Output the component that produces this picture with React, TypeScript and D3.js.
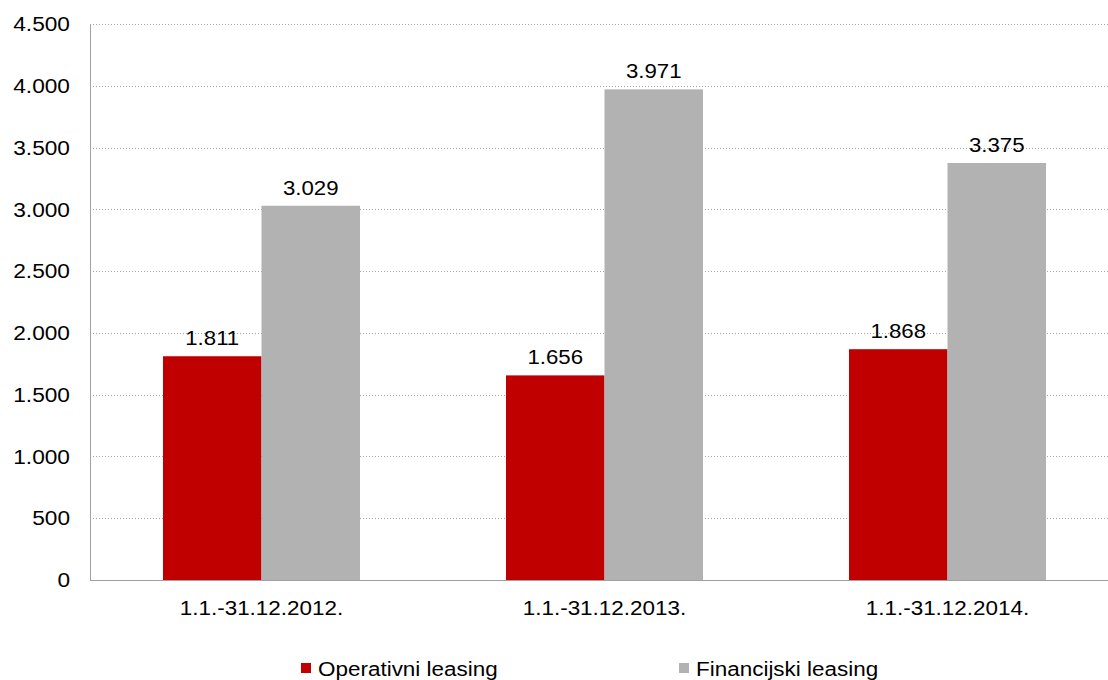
import React from "react";
import * as d3 from "d3";

const categories = ["1.1.-31.12.2012.", "1.1.-31.12.2013.", "1.1.-31.12.2014."];
const seriesNames = ["Operativni leasing", "Financijski leasing"];
const operativni = [1811, 1656, 1868];
const financijski = [3029, 3971, 3375];
const yTicks = [0, 500, 1000, 1500, 2000, 2500, 3000, 3500, 4000, 4500];
const colors = ["#C00000", "#B2B2B2"];

const W = 1108;
const H = 680;
const left = 90;
const right = 1119;
const top = 24;
const bottom = 580;
const groupW = 197;
const FONT = "'Liberation Sans', Arial, sans-serif";

const fmt = (v: number) => {
  const s = String(v);
  return s.replace(/\B(?=(\d{3})+(?!\d))/g, ".");
};

export default function App() {
  const x0 = d3.scaleBand<string>().domain(categories).range([left, right]);
  const x1 = d3.scaleBand<string>().domain(seriesNames).range([0, groupW]);
  const y = d3.scaleLinear().domain([0, 4500]).range([bottom, top]);
  const seriesValues = [operativni, financijski];

  return (
    <svg
      width={W}
      height={H}
      style={{ position: "absolute", left: 0, top: 0, background: "#fff" }}
      fontFamily={FONT}
    >
      {yTicks.map((t) => (
        <g key={t}>
          {t > 0 && (
            <line
              x1={left}
              x2={W}
              y1={Math.round(y(t)) + 0.5}
              y2={Math.round(y(t)) + 0.5}
              stroke="#a6a6a6"
              strokeDasharray="1,2"
            />
          )}
          <text
            x={70}
            y={y(t)}
            textAnchor="end"
            dominantBaseline="central"
            fontSize={21}
            fill="#000"
            transform={`translate(70,0) scale(1.08,1) translate(-70,0)`}
          >
            {fmt(t)}
          </text>
        </g>
      ))}
      {categories.map((c, ci) => {
        const gx = (x0(c) as number) + (x0.bandwidth() - groupW) / 2;
        return (
          <g key={c}>
            {seriesNames.map((s, si) => {
              const v = seriesValues[si][ci];
              const bx = gx + (x1(s) as number);
              return (
                <g key={s}>
                  <rect
                    x={bx}
                    y={y(v)}
                    width={x1.bandwidth()}
                    height={bottom - y(v)}
                    fill={colors[si]}
                  />
                  <text
                    x={bx + x1.bandwidth() / 2}
                    y={y(v) - 11}
                    textAnchor="middle"
                    fontSize={21}
                    fill="#000"
                    transform={`translate(${bx + x1.bandwidth() / 2},0) scale(1.06,1) translate(${-(bx + x1.bandwidth() / 2)},0)`}
                  >
                    {fmt(v)}
                  </text>
                </g>
              );
            })}
            <text
              x={(x0(c) as number) + x0.bandwidth() / 2}
              y={615}
              textAnchor="middle"
              fontSize={21}
              fill="#000"
              transform={`translate(${(x0(c) as number) + x0.bandwidth() / 2},0) scale(1.07,1) translate(${-((x0(c) as number) + x0.bandwidth() / 2)},0)`}
            >
              {c}
            </text>
          </g>
        );
      })}
      <line x1={left + 0.5} x2={left + 0.5} y1={top} y2={bottom} stroke="#a0a0a0" />
      <line x1={left} x2={W} y1={bottom + 0.5} y2={bottom + 0.5} stroke="#a0a0a0" />
      {seriesNames.map((s, i) => {
        const lx = i === 0 ? 301 : 679;
        return (
          <g key={s}>
            <rect x={lx} y={663} width={10} height={10} fill={colors[i]} />
            <text
              x={lx + 17}
              y={676}
              fontSize={21}
              fill="#000"
              transform={`translate(${lx + 17},0) scale(1.07,1) translate(${-(lx + 17)},0)`}
            >
              {s}
            </text>
          </g>
        );
      })}
    </svg>
  );
}
